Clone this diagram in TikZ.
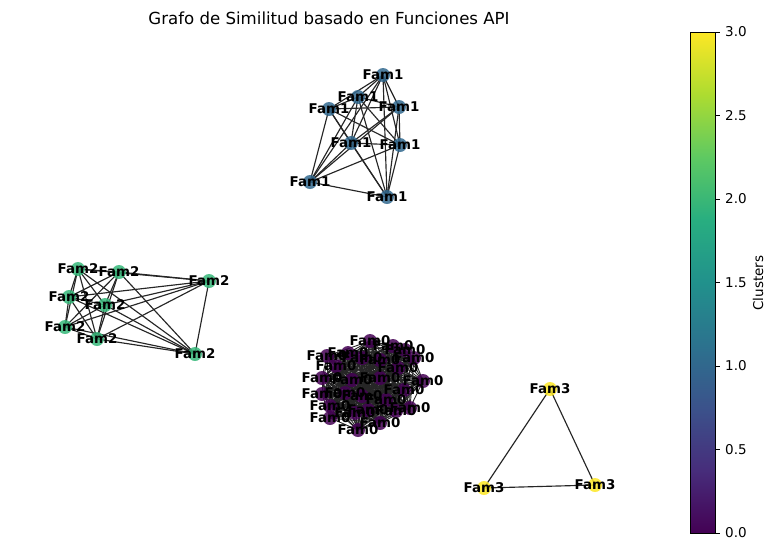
\documentclass[tikz,border=0pt]{standalone}
\usepackage{fontspec}
\setmainfont{DejaVu Sans}
\definecolor{c0}{HTML}{440154}
\definecolor{c1}{HTML}{31688E}
\definecolor{c2}{HTML}{35B779}
\definecolor{c3}{HTML}{FDE725}
\definecolor{v0}{HTML}{440154}
\definecolor{v1}{HTML}{472D7B}
\definecolor{v2}{HTML}{3B528B}
\definecolor{v3}{HTML}{2C728E}
\definecolor{v4}{HTML}{21918C}
\definecolor{v5}{HTML}{28AE80}
\definecolor{v6}{HTML}{5EC962}
\definecolor{v7}{HTML}{ADDC30}
\definecolor{v8}{HTML}{FDE725}
\pgfdeclareverticalshading{viridis}{100bp}{color(0bp)=(v0); color(25bp)=(v0); color(31.25bp)=(v1); color(37.5bp)=(v2); color(43.75bp)=(v3); color(50bp)=(v4); color(56.25bp)=(v5); color(62.5bp)=(v6); color(68.75bp)=(v7); color(75bp)=(v8); color(100bp)=(v8)}
\tikzset{
  edge/.style={draw=black!85, line width=1.15pt},
  dot/.style={circle, inner sep=0pt, minimum size=14pt, fill opacity=0.85},
  lab/.style={inner sep=0pt, font=\bfseries\fontsize{13.4}{15}\selectfont},
  tick/.style={line width=0.8pt},
  ticklab/.style={inner sep=0pt, anchor=west, font=\fontsize{13.5}{15}\selectfont},
}
\begin{document}
\begin{tikzpicture}[x=1pt,y=-1pt]
\useasboundingbox (0,0) rectangle (776,550);
% Title
\node[inner sep=0pt, font=\fontsize{16.6}{18}\selectfont] (title) at (329,18) {Grafo de Similitud basado en Funciones API};
% Fam1 cluster
\foreach \n/\x/\y in {1/383/75, 2/358/97, 3/329/109, 4/399/107, 5/351/143, 6/400/145, 7/310/182, 8/387/197}
  \coordinate (a\n) at (\x,\y);
% Fam2 cluster
\foreach \n/\x/\y in {1/78/269, 2/119/272, 3/209/281, 4/69/297, 5/105/305, 6/65/327, 7/97/339, 8/195/354}
  \coordinate (b\n) at (\x,\y);
% Fam3 cluster
\foreach \n/\x/\y in {1/550/389, 2/484/488, 3/595/485}
  \coordinate (d\n) at (\x,\y);
% Fam0 cluster
\foreach \n/\x/\y in {1/370/341, 2/393/346, 3/405/350, 4/327/356, 5/348/353, 6/362/358, 7/380/360, 8/414/358, 9/398/368, 10/336/366, 11/322/378, 12/352/380, 13/380/378, 14/423/381, 15/404/390, 16/322/394, 17/345/393, 18/362/396, 19/330/406, 20/386/400, 21/410/408, 22/396/411, 23/330/418, 24/355/413, 25/380/423, 26/358/430, 27/368/410}
  \coordinate (z\n) at (\x,\y);
% Edges
\foreach \i in {1,...,7}{
  \pgfmathtruncatemacro\s{\i+1}
  \foreach \j in {\s,...,8}{
    \draw[edge] (a\i) -- (a\j);
    \draw[edge] (b\i) -- (b\j);
  }
}
\draw[edge] (d1) -- (d2);
\draw[edge] (d1) -- (d3);
\draw[edge] (d2) -- (d3);
\foreach \i in {1,...,26}{
  \pgfmathtruncatemacro\s{\i+1}
  \foreach \j in {\s,...,27}{
    \draw[edge, line width=0.9pt] (z\i) -- (z\j);
  }
}
% Nodes
\foreach \n in {1,...,8} \node[dot, fill=c1] (na\n) at (a\n) {};
\foreach \n in {1,...,8} \node[dot, fill=c2] (nb\n) at (b\n) {};
\foreach \n in {1,...,3} \node[dot, fill=c3] (nd\n) at (d\n) {};
\foreach \n in {1,...,27} \node[dot, fill=c0] (nz\n) at (z\n) {};
% Labels
\foreach \n in {1,...,27} \node[lab] (tz\n) at (z\n) {Fam0};
\foreach \n in {1,...,8} \node[lab] (ta\n) at (a\n) {Fam1};
\foreach \n in {1,...,8} \node[lab] (tb\n) at (b\n) {Fam2};
\foreach \n in {1,...,3} \node[lab] (td\n) at (d\n) {Fam3};
% Colorbar
\shade[shading=viridis] (690,32) rectangle (715,533);
\draw[line width=0.8pt] (690,32) rectangle (715,533);
\foreach \v/\yy in {0.0/533, 0.5/449.5, 1.0/366, 1.5/282.5, 2.0/199, 2.5/115.5, 3.0/32}{
  \draw[tick] (715,\yy) -- (720,\yy);
  \node[ticklab] (tl\v) at (725,\yy) {\v};
}
\node[inner sep=0pt, rotate=90, font=\fontsize{13.5}{15}\selectfont] (cblabel) at (758,283) {Clusters};
\end{tikzpicture}
\end{document}
